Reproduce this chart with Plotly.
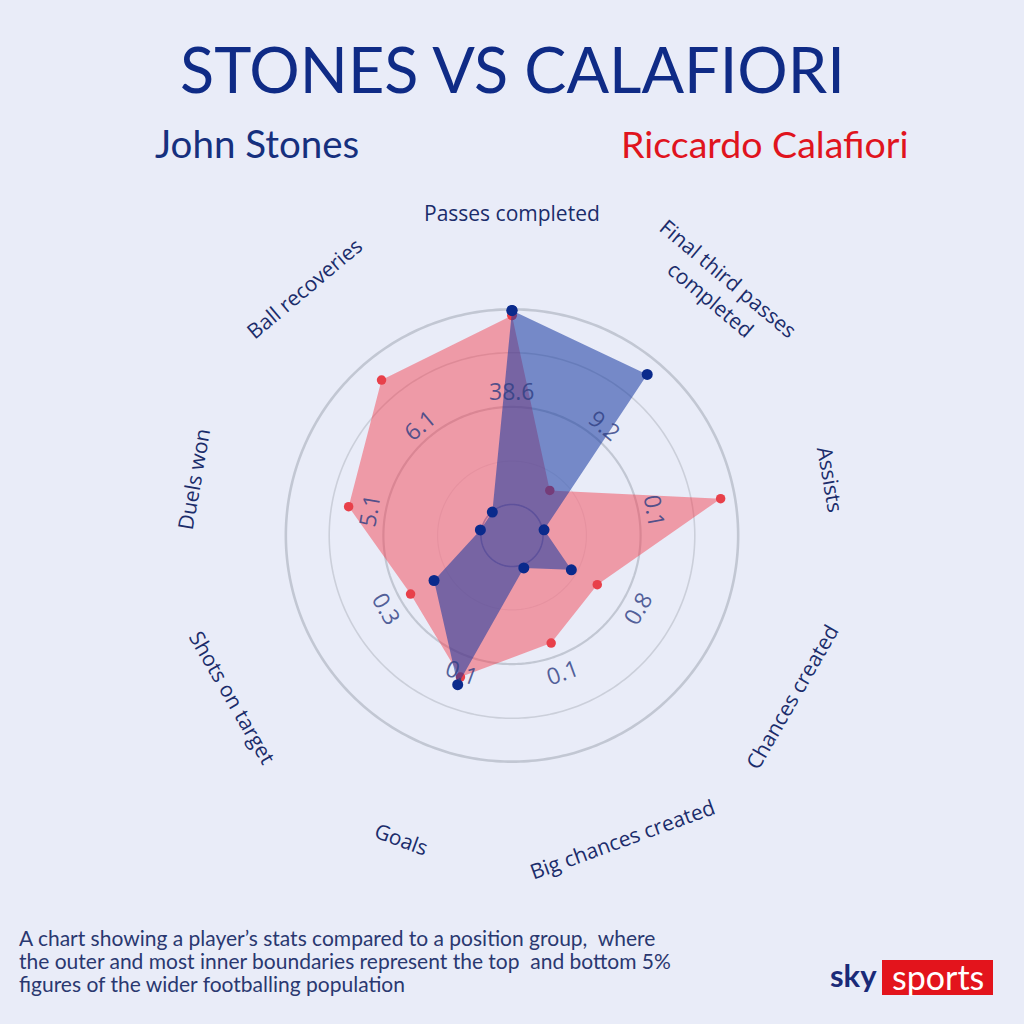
import numpy as np
import plotly.graph_objects as go

# ---------------- data ----------------
categories = ["Passes completed", "Final third passes<br>completed", "Assists",
              "Chances created", "Big chances created", "Goals",
              "Shots on target", "Duels won", "Ball recoveries"]
# percentile position within the wider population (0 = bottom, 100 = top)
stones = [94.5, 87.7, 5.7, 22.3, 6.6, 63.9, 32.2, 5.5, 4.8]
calafiori = [92.2, 17.8, 88.4, 36.1, 43.5, 60.2, 44.7, 67.2, 84.3]
median_labels = ["38.6", "9.2", "0.1", "0.8", "0.1", "0.1", "0.3", "5.1", "6.1"]
ring_levels = [5, 25, 50, 75, 95]
footnote_lines = [
    "A chart showing a player\u2019s stats compared to a position group,  where",
    "the outer and most inner boundaries represent the top  and bottom 5%",
    "figures of the wider footballing population",
]

# ---------------- geometry / style ----------------
W = H = 1024
CX, CY = 512, 535.5          # polar centre in pixels (from top-left)
R_OUT = 237.0                # pixel radius of value 100
ZERO_PX = 20.2               # pixel radius of value 0
R_LO = -ZERO_PX * 100 / (R_OUT - ZERO_PX)   # radial range lower bound so that 0 sits at ZERO_PX
BG = "#E9ECF8"
NAVY = "#0F2B86"
LABEL_COL = "#1B2C6B"
VAL_COL = "rgba(48,64,132,0.82)"
RED = "#E8404A"
BLUE_DOT = "#0A2A8C"

n = len(categories)
theta = [i * 360 / n for i in range(n)]

dom_x = [(CX - R_OUT) / W, (CX + R_OUT) / W]
dom_y = [(H - CY - R_OUT) / H, (H - CY + R_OUT) / H]

fig = go.Figure()

ring_style = {5: ("#7E9BD4", 1.6), 25: ("#DADDEA", 1.2), 50: ("#C2C7D3", 2.2),
              75: ("#CBCFDA", 1.6), 95: ("#C2C7D3", 2.6)}
ring_theta = np.linspace(0, 360, 361)
for lv in ring_levels:
    col, wd = ring_style[lv]
    fig.add_trace(go.Scatterpolar(r=[lv] * len(ring_theta), theta=ring_theta, mode="lines",
                                  line=dict(color=col, width=wd), hoverinfo="skip",
                                  showlegend=False))

fig.add_trace(go.Scatterpolar(
    r=calafiori + calafiori[:1], theta=theta + theta[:1], mode="lines+markers",
    fill="toself", fillcolor="rgba(244,62,76,0.47)",
    line=dict(width=0, color="rgba(0,0,0,0)"),
    marker=dict(color=RED, size=9.5), name="Riccardo Calafiori", showlegend=False))

fig.add_trace(go.Scatterpolar(
    r=stones + stones[:1], theta=theta + theta[:1], mode="lines+markers",
    fill="toself", fillcolor="rgba(22,56,160,0.55)",
    line=dict(width=0, color="rgba(0,0,0,0)"),
    marker=dict(color=BLUE_DOT, size=11), name="John Stones", showlegend=False))

fig.update_layout(
    width=W, height=H,
    margin=dict(l=0, r=0, t=0, b=0),
    paper_bgcolor=BG, plot_bgcolor=BG,
    polar=dict(
        domain=dict(x=dom_x, y=dom_y),
        bgcolor="rgba(0,0,0,0)",
        radialaxis=dict(range=[R_LO, 100], visible=False, showgrid=False),
        angularaxis=dict(rotation=90, direction="clockwise", thetaunit="degrees",
                         showgrid=False, showline=False, showticklabels=False, ticks=""),
    ),
)

def to_paper(r_px, ang_deg):
    # ang_deg: clockwise from top
    a = np.deg2rad(90 - ang_deg)
    x = CX + r_px * np.cos(a)
    y = CY - r_px * np.sin(a)
    return x / W, 1 - y / H

def tangent_angle(ang_deg):
    rot = ang_deg % 360
    if 90 < rot < 270:
        rot -= 180
    elif rot >= 270:
        rot -= 360
    return rot

annotations = []
for i, cat in enumerate(categories):
    x, y = to_paper(323, theta[i])
    annotations.append(dict(x=x, y=y, xref="paper", yref="paper", text=cat, showarrow=False,
                            xanchor="center", yanchor="middle", align="center",
                            textangle=tangent_angle(theta[i]),
                            font=dict(family="Open Sans", size=21, color=LABEL_COL)))
    r_val = ZERO_PX + (R_OUT - ZERO_PX) * 57.5 / 100
    x, y = to_paper(r_val, theta[i])
    annotations.append(dict(x=x, y=y, xref="paper", yref="paper", text=median_labels[i],
                            showarrow=False, xanchor="center", yanchor="middle",
                            textangle=tangent_angle(theta[i]),
                            font=dict(family="Open Sans", size=23, color=VAL_COL)))

annotations += [
    dict(x=0.5, y=1 - 68 / H, xref="paper", yref="paper", text="STONES VS CALAFIORI",
         showarrow=False, xanchor="center", yanchor="middle",
         font=dict(family="Lato", size=63, color=NAVY)),
    dict(x=153 / W, y=1 - 143 / H, xref="paper", yref="paper", text="John Stones",
         showarrow=False, xanchor="left", yanchor="middle",
         font=dict(family="Lato", size=38.5, color="#16307E")),
    dict(x=910 / W, y=1 - 143 / H, xref="paper", yref="paper", text="Riccardo Calafiori",
         showarrow=False, xanchor="right", yanchor="middle",
         font=dict(family="Lato", size=37.5, color="#E0141E")),
    dict(x=879 / W, y=1 - 975 / H, xref="paper", yref="paper", text="<b>sky</b>",
         showarrow=False, xanchor="right", yanchor="middle",
         font=dict(family="Lato", size=31, color="#1A2A78")),
    dict(x=937.5 / W, y=1 - 976 / H, xref="paper", yref="paper", text="sports",
         showarrow=False, xanchor="center", yanchor="middle",
         font=dict(family="Lato", size=34, color="white")),
]
for k, line in enumerate(footnote_lines):
    annotations.append(dict(x=17 / W, y=1 - (937 + 23 * k) / H, xref="paper", yref="paper",
                            text=line, showarrow=False, xanchor="left", yanchor="middle",
                            align="left", font=dict(family="Lato", size=21, color="#2A3870")))
fig.update_layout(
    annotations=annotations,
    shapes=[dict(type="rect", xref="paper", yref="paper", layer="below",
                 x0=882 / W, x1=993 / W, y0=1 - 995 / H, y1=1 - 960 / H,
                 fillcolor="#E3141C", line=dict(width=0))],
)

fig.write_html("out.html", config={"displayModeBar": False},
               post_script="document.body.style.margin='0';document.body.style.background='%s';" % BG)
